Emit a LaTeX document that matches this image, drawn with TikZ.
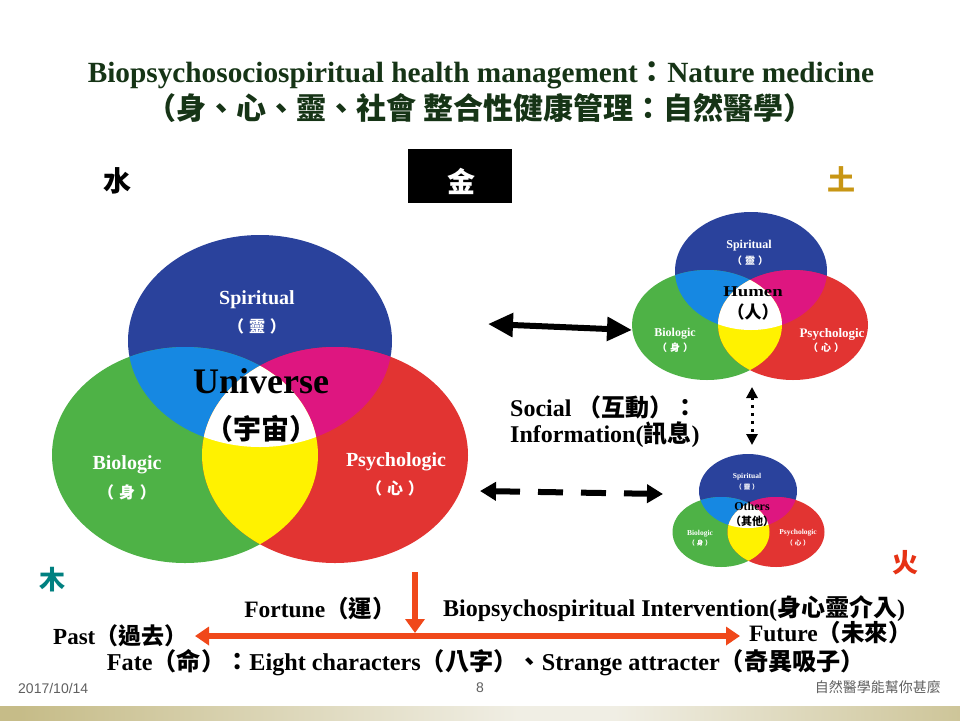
\documentclass[tikz,border=0pt]{standalone}
\usepackage{fontspec}
\setmainfont{Liberation Serif}
\setsansfont{Liberation Sans}
\newfontfamily\cjk{Noto Sans CJK TC}
\usetikzlibrary{arrows.meta}
\newcommand\zh[1]{{\cjk #1}}
\newcommand\pz[1]{{\cjk （\hspace{0.3em}#1\hspace{0.3em}）}}
\newcommand\fsz[1]{\fontsize{#1}{#1}\selectfont}
\definecolor{titlegreen}{RGB}{22,52,22}
\definecolor{vblue}{RGB}{42,66,156}
\definecolor{vgreen}{RGB}{78,178,70}
\definecolor{vred}{RGB}{226,52,50}
\definecolor{vcyan}{RGB}{22,136,226}
\definecolor{vmag}{RGB}{222,22,128}
\definecolor{vyel}{RGB}{255,242,0}
\definecolor{earth}{RGB}{200,150,20}
\definecolor{wood}{RGB}{0,128,128}
\definecolor{fire}{RGB}{230,50,20}
\definecolor{arrred}{RGB}{240,72,26}
\definecolor{footgray}{RGB}{96,96,96}
\definecolor{bandolive}{RGB}{198,188,136}
\definecolor{bandlight}{RGB}{240,238,228}
\pgfdeclarehorizontalshading{footband}{100bp}{color(0bp)=(bandolive); color(26bp)=(bandolive); color(52bp)=(bandlight); color(57bp)=(bandlight); color(79bp)=(bandolive); color(100bp)=(bandolive)}
\newcommand\drawvenn{%
  \fill[vblue] \Bpath; \fill[vgreen] \Gpath; \fill[vred] \Rpath;
  \begin{scope}\clip \Gpath; \fill[vcyan] \Bpath; \end{scope}
  \begin{scope}\clip \Rpath; \fill[vmag] \Bpath; \end{scope}
  \begin{scope}\clip \Gpath; \fill[vyel] \Rpath; \end{scope}
  \begin{scope}\clip \Gpath; \clip \Rpath; \fill[white] \Bpath; \end{scope}}
\begin{document}
\begin{tikzpicture}[x=1pt,y=-1pt,
  lbl/.style={inner sep=0pt, font=\bfseries},
  wlbl/.style={lbl, text=white},
  bigtip/.style={line width=6pt, {Triangle[length=25pt,width=23pt]}-{Triangle[length=25pt,width=23pt]}},
  dashtip/.style={line width=6pt, dash pattern=on 25pt off 18pt, {Triangle[length=16pt,width=18pt]}-{Triangle[length=16pt,width=18pt]}},
  dottip/.style={line width=3pt, dash pattern=on 3pt off 5pt, {Triangle[length=11pt,width=11pt]}-{Triangle[length=11pt,width=11pt]}},
  redarrow/.style={arrred, line width=5.5pt},
  foot/.style={inner sep=0pt, text=footgray, font=\sffamily\fsz{14}}]
\useasboundingbox (0,0) rectangle (960,720);
\fill[white] (0,0) rectangle (960,720);

% title
\node[lbl, text=titlegreen] (t1) at (481,75) {\fsz{29.3}Biopsychosociospiritual health management\zh{：}Nature medicine};
\node[lbl, text=titlegreen] (t2) at (480,108) {\fsz{30}\zh{（身、心、靈、社會 整合性健康管理：自然醫學）}};

% five elements
\node[lbl] (water) at (117,181) {\fsz{28}\zh{水}};
\node[fill=black, minimum width=104pt, minimum height=54pt, inner sep=0pt] (metalbox) at (460,176) {};
\node[lbl, text=white] (metal) at (461,181) {\fsz{28}\zh{金}};
\node[lbl, text=earth] (earthc) at (841,179) {\fsz{28}\zh{土}};
\node[lbl, text=wood] (woodc) at (52,580) {\fsz{26}\zh{木}};
\node[lbl, text=fire] (firec) at (905,563) {\fsz{26}\zh{火}};

% big venn
\def\Bpath{(260,341) ellipse [x radius=132pt, y radius=106pt]}
\def\Gpath{(185,455) ellipse [x radius=133pt, y radius=108pt]}
\def\Rpath{(335,455) ellipse [x radius=133pt, y radius=108pt]}
\drawvenn
\node[wlbl] (sp1) at (257,300) {\fsz{20}Spiritual};
\node[wlbl] (sp1c) at (257,326) {\fsz{16}\pz{靈}};
\node[lbl] (univ) at (261,381) {\fsz{36}Universe};
\node[lbl] (univc) at (261,429) {\fsz{28}\zh{（宇宙）}};
\node[wlbl] (bio1) at (127,465) {\fsz{20}Biologic};
\node[wlbl] (bio1c) at (127,492) {\fsz{16}\pz{身}};
\node[wlbl] (psy1) at (396,462) {\fsz{20}Psychologic};
\node[wlbl] (psy1c) at (395,488) {\fsz{16}\pz{心}};

% human venn
\def\Bpath{(751,271) ellipse [x radius=76pt, y radius=59pt]}
\def\Gpath{(707,325) ellipse [x radius=75pt, y radius=55pt]}
\def\Rpath{(793,325) ellipse [x radius=75pt, y radius=55pt]}
\drawvenn
\node[wlbl] (sp2) at (749,246) {\fsz{12}Spiritual};
\node[wlbl] (sp2c) at (750,261) {\fsz{10}\pz{靈}};
\node[lbl] (hum) at (753,292) {\fsz{15}\scalebox{1.25}[1]{Humen}};
\node[lbl] (humc) at (753,312) {\fsz{17}\zh{（人）}};
\node[wlbl] (bio2) at (675,334) {\fsz{12}Biologic};
\node[wlbl] (bio2c) at (675,348) {\fsz{10}\pz{身}};
\node[wlbl] (psy2) at (832,334) {\fsz{13}Psychologic};
\node[wlbl] (psy2c) at (826,348) {\fsz{10}\pz{心}};

% others venn
\def\Bpath{(748,491) ellipse [x radius=49pt, y radius=37pt]}
\def\Gpath{(721,532) ellipse [x radius=48.5pt, y radius=35pt]}
\def\Rpath{(776,532) ellipse [x radius=48.5pt, y radius=35pt]}
\drawvenn
\node[wlbl] (sp3) at (747,477) {\fsz{7.5}Spiritual};
\node[wlbl] (sp3c) at (747,487) {\fsz{6.5}\pz{靈}};
\node[lbl] (oth) at (752,506) {\fsz{12}Others};
\node[lbl] (othc) at (752,521) {\fsz{11}\zh{（其他）}};
\node[wlbl] (bio3) at (700,534) {\fsz{7.5}Biologic};
\node[wlbl] (bio3c) at (700,543) {\fsz{6.5}\pz{身}};
\node[wlbl] (psy3) at (798,533) {\fsz{7.5}Psychologic};
\node[wlbl] (psy3c) at (798,543) {\fsz{6.5}\pz{心}};

% social label
\node[lbl, anchor=west] (soc) at (510,407) {\fsz{24}Social \zh{（互動）：}};
\node[lbl, anchor=west] (info) at (510,435) {\fsz{24}Information(\zh{訊息})};

% black connectors
\coordinate (s1) at (488,324);
\coordinate (s2) at (632,330);
\draw[bigtip] (s1) -- (s2);
\coordinate (d1) at (480,491);
\coordinate (d2) at (663,494);
\draw[dashtip] (d1) -- (d2);
\coordinate (v1) at (752,387);
\coordinate (v2) at (752,445);
\draw[dottip] (v1) -- (v2);

% timeline
\coordinate (ftop) at (415,572);
\coordinate (fbot) at (415,633);
\coordinate (tl) at (195,636);
\coordinate (tr) at (740,636);
\draw[redarrow, {Triangle[length=14pt,width=18pt]}-{Triangle[length=14pt,width=18pt]}] (tl) -- (tr);
\draw[redarrow, -{Triangle[length=14pt,width=19pt]}] (ftop) -- (fbot);

\node[lbl] (fort) at (320,609) {\fsz{23.5}Fortune\zh{（運）}};
\node[lbl, anchor=west] (interv) at (443,609) {\fsz{24}Biopsychospiritual Intervention(\zh{身心靈介入})};
\node[lbl, anchor=west] (past) at (53,636) {\fsz{23}Past\zh{（過去）}};
\node[lbl, anchor=east] (fut) at (912,633) {\fsz{23.5}Future\zh{（未來）}};
\node[lbl] (fate) at (486,663) {\fsz{24.2}Fate\zh{（命）：}Eight characters\zh{（八字）、}Strange attracter\zh{（奇異吸子）}};

% footer
\node[foot, anchor=west] (date) at (18,688) {2017/10/14};
\node[foot] (pg) at (480,688) {8};
\node[foot, anchor=east] (ftitle) at (941,687) {\cjk 自然醫學能幫你甚麼};
\shade[shading=footband] (0,706) rectangle (960,720);
\end{tikzpicture}
\end{document}
